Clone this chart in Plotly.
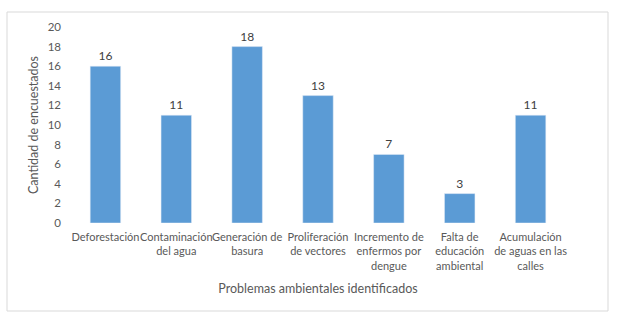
import plotly.graph_objects as go

categories = [
    "Deforestación",
    "Contaminación<br>del agua",
    "Generación de<br>basura",
    "Proliferación<br>de vectores",
    "Incremento de<br>enfermos por<br>dengue",
    "Falta de<br>educación<br>ambiental",
    "Acumulación<br>de aguas en las<br>calles",
]
values = [16, 11, 18, 13, 7, 3, 11]
y_ticks = [0, 2, 4, 6, 8, 10, 12, 14, 16, 18, 20]

W, H = 618, 317
L, R, T, B = 70, 52, 27, 94
pw, ph = W - L - R, H - T - B
font = "Lato"
grey = "#595959"

fig = go.Figure(go.Bar(
    x=categories, y=values, marker=dict(color="#5B9BD5"),
    text=[str(v) for v in values], textposition="outside", cliponaxis=False,
    textfont=dict(family=font, size=12, color="#404040"),
))

fig.update_xaxes(showgrid=False, zeroline=False, showline=False, ticks="",
                 automargin=False,
                 tickfont=dict(family=font, size=11, color=grey),
                 tickangle=0, ticklabelstandoff=6,
                 title=dict(text="Problemas ambientales identificados",
                            font=dict(family=font, size=12.5, color=grey),
                            standoff=13))
fig.update_yaxes(range=[0, 20], tickvals=y_ticks, showgrid=False,
                 zeroline=False, showline=False, ticks="", automargin=False,
                 tickfont=dict(family=font, size=11.5, color=grey),
                 ticklabelstandoff=8,
                 title=dict(text="Cantidad de encuestados",
                            font=dict(family=font, size=12.5, color=grey),
                            standoff=6))

# chart border like the Excel chart area
fig.add_shape(type="rect", xref="paper", yref="paper",
              x0=(7 - L) / pw, x1=(608 - L) / pw,
              y0=(H - B - 311) / ph, y1=(H - B - 12) / ph,
              line=dict(color="#D9D9D9", width=1))

fig.update_layout(
    width=W, height=H, margin=dict(l=L, r=R, t=T, b=B, autoexpand=False),
    bargap=0.57, showlegend=False,
    paper_bgcolor="white", plot_bgcolor="white",
)
fig.write_html("out.html", config={"displayModeBar": False},
               post_script="document.body.style.margin='0';")
